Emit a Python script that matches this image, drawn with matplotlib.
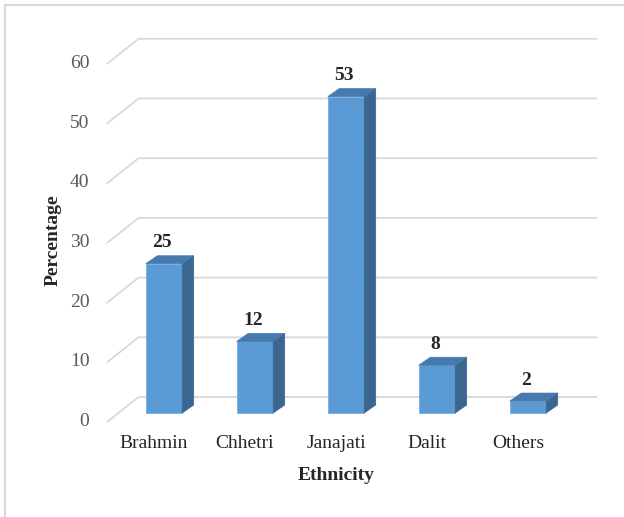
import matplotlib
matplotlib.use("Agg")
import matplotlib.pyplot as plt
from matplotlib.patches import Polygon, Rectangle
from matplotlib.lines import Line2D
import numpy as np

categories = ["Brahmin", "Chhetri", "Janajati", "Dalit", "Others"]
percentages = [25, 12, 53, 8, 2]
y_ticks = [0, 10, 20, 30, 40, 50, 60]

plt.rcParams["font.family"] = ["Liberation Serif", "DejaVu Serif"]

FRONT = "#5B9BD5"
SIDE = "#3A668F"
TOP = "#4679AD"
GRID = "#D9D9D9"
FS = 14

fig = plt.figure(figsize=(6.24, 5.17), dpi=100)
ax = fig.add_axes([0, 0, 1, 1])
ax.set_xlim(-164 / 91, (624 - 164) / 91)
ax.set_ylim((413 - 517) / 5.97, 413 / 5.97)
ax.axis("off")


def shift(points, dx, dy):
    # move data points by a pixel offset (dy is upward)
    disp = ax.transData.transform(np.atleast_2d(points))
    disp = disp + np.array([dx, dy])
    return ax.transData.inverted().transform(disp)


# pixel offsets of the floor's front edge and the back wall from the bar faces
front_off = (-11, -8.7)
back_off = (20, 16)
depth = (11.5, 8)
half = 0.2
wall_left, wall_right = -0.5, 4.53

# back wall grid and the floor/side diagonals
for v in y_ticks:
    a = shift([wall_left, v], *front_off)[0]
    b = shift([wall_left, v], *back_off)[0]
    c = shift([wall_right, v], *back_off)[0]
    ax.add_line(Line2D([a[0], b[0], c[0]], [a[1], b[1], c[1]],
                       color=GRID, lw=1.3, zorder=1, solid_joinstyle="miter"))
    ax.annotate(str(v), xy=a, xytext=(-18, 0), textcoords="offset pixels",
                ha="right", va="center", fontsize=FS, color="#595959")

# bars with a top and a side face
for i, v in enumerate(percentages):
    ax.add_patch(Rectangle((i - half, 0), 2 * half, v, facecolor=FRONT,
                           edgecolor="#6FA8DC", lw=0.5, zorder=3))
    side = np.array([[i + half, 0], [i + half, v]])
    side_back = shift(side, *depth)
    ax.add_patch(Polygon(np.vstack([side, side_back[::-1]]), closed=True,
                         facecolor=SIDE, edgecolor=SIDE, lw=0.5, zorder=3))
    top = np.array([[i - half, v], [i + half, v]])
    top_back = shift(top, *depth)
    ax.add_patch(Polygon(np.vstack([top, top_back[::-1]]), closed=True,
                         facecolor=TOP, edgecolor=TOP, lw=0.5, zorder=3))
    ax.annotate(str(v), xy=(i, v), xytext=(-2, 21), textcoords="offset pixels",
                ha="center", va="center", fontsize=FS, fontweight="bold",
                color="#262626")
    ax.annotate(categories[i], xy=(i, 0), xytext=(-10, -30),
                textcoords="offset pixels", ha="center", va="center",
                fontsize=FS, color="#262626")

fig.text(336 / 624, 1 - 475 / 517, "Ethnicity", ha="center", va="center",
         fontsize=FS, fontweight="bold", color="#262626")
fig.text(53 / 624, 1 - 240 / 517, "Percentage", ha="center", va="center",
         rotation=90, fontsize=FS, fontweight="bold", color="#262626")

# chart frame
fig.add_artist(Line2D([5 / 624, 5 / 624], [0, 1 - 5 / 517], color=GRID, lw=1.5))
fig.add_artist(Line2D([5 / 624, 1], [1 - 5 / 517, 1 - 5 / 517], color=GRID, lw=1.5))

fig.savefig("out.png", dpi=100)
